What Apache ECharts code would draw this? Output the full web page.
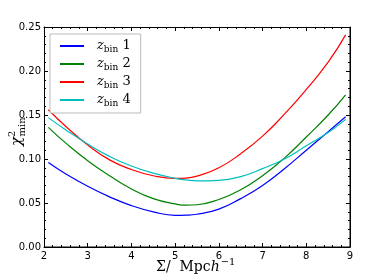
<!DOCTYPE html>
<html><head><meta charset="utf-8">
<script src="https://cdn.jsdelivr.net/npm/echarts@6/dist/echarts.min.js"></script>
<style>html,body{margin:0;padding:0;background:#fff}#c{width:374px;height:280px}</style>
</head><body><div id="c"></div>
<script>
const sigma = [2.1, 2.5, 3.0, 3.5, 4.0, 4.5, 5.0, 5.25, 5.5, 6.0, 6.5, 7.0, 7.5, 8.0, 8.5, 8.9];
const bin1 = [0.096, 0.083, 0.069, 0.057, 0.047, 0.040, 0.0360, 0.0362, 0.0372, 0.043, 0.055, 0.070, 0.089, 0.110, 0.131, 0.148];
const bin2 = [0.136, 0.118, 0.098, 0.081, 0.066, 0.055, 0.0490, 0.0475, 0.0480, 0.054, 0.065, 0.081, 0.101, 0.125, 0.150, 0.173];
const bin3 = [0.156, 0.137, 0.116, 0.099, 0.088, 0.081, 0.0780, 0.0783, 0.0805, 0.090, 0.106, 0.126, 0.151, 0.179, 0.210, 0.241];
const bin4 = [0.147, 0.133, 0.117, 0.103, 0.092, 0.084, 0.0780, 0.0762, 0.0752, 0.0758, 0.080, 0.089, 0.100, 0.115, 0.130, 0.145];
const seriesNames = ['1', '2', '3', '4'];
const seriesColors = ['#0000ff', '#008000', '#ff0000', '#00bfbf'];
const xRange = [2, 9];
const yRange = [0, 0.25];

const allData = [bin1, bin2, bin3, bin4];
const chart = echarts.init(document.getElementById('c'));
const tickFont = {color: '#000', fontSize: 10, fontFamily: 'DejaVu Sans'};
const serif = 'DejaVu Serif';
function axisCommon(show) {
  return {
    axisLine: {show: true, onZero: false, lineStyle: {color: '#000', width: 1}},
    axisTick: {show: true, inside: true, length: 4, lineStyle: {color: '#000'}},
    minorTick: {show: true, splitNumber: 5, length: 2, lineStyle: {color: '#000'}},
    splitLine: {show: false},
    axisLabel: Object.assign({show: show}, tickFont)
  };
}
const gridBox = {left: 44, right: 24, top: 27, bottom: 33, outerBoundsMode: 'none', containLabel: false};
const option = {
  animation: false,
  backgroundColor: '#fff',
  grid: [Object.assign({}, gridBox), Object.assign({}, gridBox)],
  legend: {
    orient: 'vertical', left: 50, top: 34,
    padding: [5, 10, 5, 10], itemGap: 3,
    itemWidth: 24, itemHeight: 2, icon: 'rect',
    borderColor: '#bbb', borderWidth: 1, backgroundColor: '#fff',
    data: seriesNames.map(n => 'bin' + n),
    formatter: name => '{z|z}{s|bin}{n| ' + name.slice(3) + '}',
    textStyle: {
      padding: [0, 0, 0, 8],
      rich: {
        z: {fontFamily: serif, fontStyle: 'italic', fontSize: 13, lineHeight: 16, color: '#000', verticalAlign: 'middle'},
        s: {fontFamily: serif, fontSize: 9, lineHeight: 16, color: '#000', verticalAlign: 'bottom', padding: [6, 0, 0, 0]},
        n: {fontFamily: serif, fontSize: 13, lineHeight: 16, color: '#000', verticalAlign: 'middle'}
      }
    }
  },
  graphic: [
    {type: 'rect', z: 100, silent: true, shape: {x: 44.5, y: 27.5, width: 305.5, height: 219.5},
     style: {fill: null, stroke: '#000', lineWidth: 1}},
    {type: 'text', left: 156, top: 257, silent: true,
     style: {text: '{a|Σ/}{a|  Mpc}{h|h}{e|−1}', fill: '#000',
       rich: {
         a: {fontFamily: serif, fontSize: 14, fill: '#000', lineHeight: 20},
         h: {fontFamily: serif, fontStyle: 'italic', fontSize: 14, fill: '#000', lineHeight: 20},
         e: {fontFamily: serif, fontSize: 10, fill: '#000', lineHeight: 20, verticalAlign: 'top', padding: [0, 0, 8, 1]}
       }}},
    {type: 'text', x: 7, y: 146, rotation: Math.PI / 2, silent: true,
     style: {text: '{c|χ}{p|2}{m|min}', fill: '#000',
       rich: {
         c: {fontFamily: serif, fontStyle: 'italic', fontSize: 15, fill: '#000', lineHeight: 20},
         p: {fontFamily: serif, fontSize: 10, fill: '#000', lineHeight: 20, verticalAlign: 'top', padding: [0, 0, 8, 0]},
         m: {fontFamily: serif, fontSize: 10, fill: '#000', lineHeight: 20, verticalAlign: 'bottom', padding: [6, 0, 0, -6]}
       }}}
  ],
  xAxis: [
    Object.assign(axisCommon(true), {
      type: 'value', min: xRange[0], max: xRange[1], interval: 1, position: 'bottom', gridIndex: 0,
      axisLabel: Object.assign({show: true, margin: 4}, tickFont)
    }),
    Object.assign(axisCommon(false), {type: 'value', min: xRange[0], max: xRange[1], interval: 1, position: 'top', gridIndex: 1})
  ],
  yAxis: [
    Object.assign(axisCommon(true), {
      type: 'value', min: yRange[0], max: yRange[1], interval: 0.05, position: 'left', gridIndex: 0,
      axisLabel: Object.assign({show: true, margin: 3, formatter: v => v.toFixed(2)}, tickFont)
    }),
    Object.assign(axisCommon(false), {type: 'value', min: yRange[0], max: yRange[1], interval: 0.05, position: 'right', gridIndex: 1})
  ],
  series: seriesNames.map((n, i) => ({
    name: 'bin' + n, type: 'line', xAxisIndex: 0, yAxisIndex: 0,
    showSymbol: false, symbol: 'none', smooth: 0.5,
    lineStyle: {color: seriesColors[i], width: 1.2},
    itemStyle: {color: seriesColors[i]},
    data: sigma.map((x, k) => [x, allData[i][k]])
  })).concat([{
    type: 'line', xAxisIndex: 1, yAxisIndex: 1, data: [], silent: true
  }])
};
chart.setOption(option);
</script></body></html>
